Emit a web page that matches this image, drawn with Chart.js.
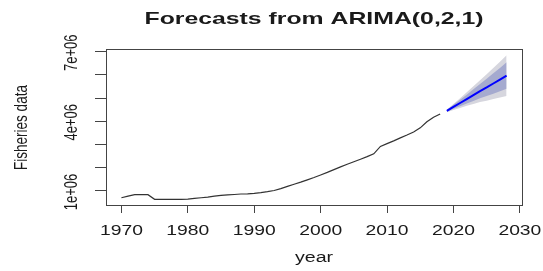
<!DOCTYPE html>
<html>
<head>
<meta charset="utf-8">
<script src="https://cdn.jsdelivr.net/npm/chart.js@4/dist/chart.umd.min.js"></script>
<style>
  html, body { margin: 0; padding: 0; background: #ffffff; }
  canvas { display: block; }
</style>
</head>
<body>
<canvas id="c" width="543" height="271"></canvas>
<script>
// ---- data ----
const chartTitle = 'Forecasts from ARIMA(0,2,1)';
const xTitle = 'year';
const yTitle = 'Fisheries data';

const histYears = [1970,1971,1972,1973,1974,1975,1976,1977,1978,1979,
                   1980,1981,1982,1983,1984,1985,1986,1987,1988,1989,
                   1990,1991,1992,1993,1994,1995,1996,1997,1998,1999,
                   2000,2001,2002,2003,2004,2005,2006,2007,2008,2009,
                   2010,2011,2012,2013,2014,2015,2016,2017,2018];
const histValues = [710000,780000,840000,840000,840000,640000,640000,640000,640000,640000,
                    650000,680000,710000,740000,780000,810000,830000,850000,870000,880000,
                    900000,930000,970000,1020000,1100000,1200000,1290000,1380000,1480000,1580000,
                    1690000,1800000,1920000,2040000,2150000,2260000,2370000,2480000,2600000,2920000,
                    3040000,3160000,3290000,3410000,3540000,3720000,3980000,4180000,4320000];

const fcYears = [2019,2020,2021,2022,2023,2024,2025,2026,2027,2028];
const fcMean  = [4450000,4620000,4790000,4960000,5130000,5300000,5460000,5630000,5800000,5970000];
const fcLo80  = [4410000,4540000,4650000,4770000,4880000,4990000,5090000,5190000,5300000,5400000];
const fcHi80  = [4490000,4710000,4930000,5150000,5380000,5610000,5830000,6070000,6300000,6540000];
const fcLo95  = [4390000,4490000,4580000,4670000,4750000,4830000,4890000,4960000,5030000,5090000];
const fcHi95  = [4510000,4750000,5000000,5250000,5510000,5770000,6030000,6300000,6570000,6850000];

const xTickValues = [1970,1980,1990,2000,2010,2020,2030];
const xTickLabels = ['1970','1980','1990','2000','2010','2020','2030'];
const yTickValues = [1000000,2000000,3000000,4000000,5000000,6000000,7000000];
const yLabelValues = [1000000,4000000,7000000];
const yLabelTexts  = ['1e+06','4e+06','7e+06'];

// ---- helpers ----
const pts = (xs, ys) => xs.map((x, i) => ({ x: x, y: ys[i] }));
const FONT = '"Liberation Sans", Arial, sans-serif';
const INK = '#1a1a1a';
const AXIS = '#444444';

function stretchedText(ctx, text, x, y, size, weight, sx, align) {
  ctx.save();
  ctx.font = weight + ' ' + size + 'px ' + FONT;
  ctx.fillStyle = INK;
  ctx.textAlign = align || 'center';
  ctx.textBaseline = 'alphabetic';
  ctx.translate(x, y);
  ctx.scale(sx, 1);
  ctx.fillText(text, 0, 0);
  ctx.restore();
}
function rotatedText(ctx, text, x, y, size, sy) {
  ctx.save();
  ctx.font = size + 'px ' + FONT;
  ctx.fillStyle = INK;
  ctx.textAlign = 'center';
  ctx.textBaseline = 'alphabetic';
  ctx.translate(x, y);
  ctx.rotate(-Math.PI / 2);
  ctx.scale(1, sy);
  ctx.fillText(text, 0, 0);
  ctx.restore();
}

const textPlugin = {
  id: 'rtext',
  afterDraw(chart) {
    const ctx = chart.ctx;
    const a = chart.chartArea;
    const xs = chart.scales.x, ys = chart.scales.y;
    // box
    ctx.save();
    ctx.strokeStyle = AXIS;
    ctx.lineWidth = 1;
    ctx.strokeRect(Math.round(a.left) + 0.5, Math.round(a.top) + 0.5,
                   Math.round(a.right - a.left), Math.round(a.bottom - a.top));
    ctx.restore();
    // title
    ctx.save();
    ctx.font = 'bold 17px ' + FONT;
    const tw = ctx.measureText(chartTitle).width;
    ctx.restore();
    stretchedText(ctx, chartTitle, (a.left + a.right) / 2, 24, 17, 'bold', 339 / tw, 'center');
    // x tick labels
    xTickValues.forEach((v, i) => {
      stretchedText(ctx, xTickLabels[i], xs.getPixelForValue(v), 235, 14, 'normal', 1.38, 'center');
    });
    // x title
    stretchedText(ctx, xTitle, (a.left + a.right) / 2, 262, 14, 'normal', 1.4, 'center');
    // y labels
    yLabelValues.forEach((v, i) => {
      rotatedText(ctx, yLabelTexts[i], 76.5, ys.getPixelForValue(v) + 1, 13, 1.4);
    });
    // y title
    rotatedText(ctx, yTitle, 26.5, 127.5, 13.5, 1.4);
  }
};

new Chart(document.getElementById('c'), {
  type: 'line',
  data: {
    datasets: [
      { label: 'forecast', data: pts(fcYears, fcMean), borderColor: '#0000ff', borderWidth: 2,
        pointRadius: 0, fill: false, tension: 0 },
      { label: 'history', data: pts(histYears, histValues), borderColor: '#333333', borderWidth: 1.2,
        pointRadius: 0, fill: false, tension: 0 },
      { label: 'lo80', data: pts(fcYears, fcLo80), borderWidth: 0, borderColor: 'rgba(0,0,0,0)',
        pointRadius: 0, fill: false, tension: 0 },
      { label: 'hi80', data: pts(fcYears, fcHi80), borderWidth: 0, borderColor: 'rgba(0,0,0,0)',
        backgroundColor: '#a5aacf', pointRadius: 0, fill: { target: 2 }, tension: 0 },
      { label: 'lo95', data: pts(fcYears, fcLo95), borderWidth: 0, borderColor: 'rgba(0,0,0,0)',
        pointRadius: 0, fill: false, tension: 0 },
      { label: 'hi95', data: pts(fcYears, fcHi95), borderWidth: 0, borderColor: 'rgba(0,0,0,0)',
        backgroundColor: '#d6d6de', pointRadius: 0, fill: { target: 4 }, tension: 0 }
    ]
  },
  options: {
    responsive: false,
    animation: false,
    devicePixelRatio: 1,
    layout: { padding: { left: 0, right: 21, top: 49, bottom: 0 } },
    plugins: { legend: { display: false }, title: { display: false }, tooltip: { enabled: false } },
    scales: {
      x: {
        type: 'linear',
        min: 1967.68, max: 2030.32,
        afterBuildTicks: s => { s.ticks = xTickValues.map(v => ({ value: v })); },
        afterFit: s => { s.height = 66; },
        ticks: { display: false },
        grid: { display: true, drawOnChartArea: false, drawTicks: true, tickLength: 8, color: AXIS, lineWidth: 1 },
        border: { display: true, color: AXIS, width: 1 }
      },
      y: {
        type: 'linear',
        min: 397000, max: 7116000,
        afterBuildTicks: s => { s.ticks = yTickValues.map(v => ({ value: v })); },
        afterFit: s => { s.width = 106; },
        ticks: { display: false },
        grid: { display: true, drawOnChartArea: false, drawTicks: true, tickLength: 11, color: AXIS, lineWidth: 1 },
        border: { display: true, color: AXIS, width: 1 }
      }
    }
  },
  plugins: [textPlugin]
});
</script>
</body>
</html>
